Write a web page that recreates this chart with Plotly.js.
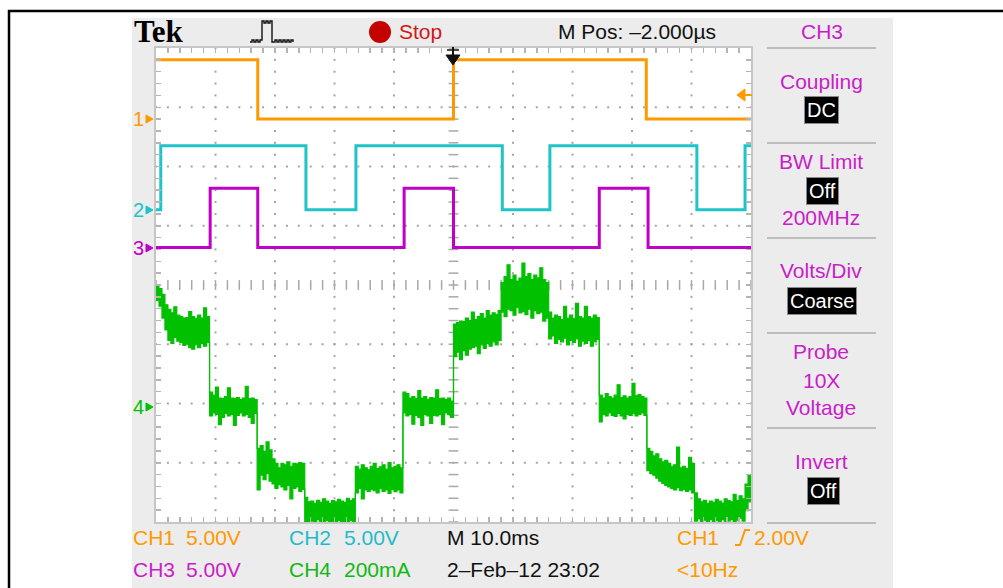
<!DOCTYPE html>
<html><head><meta charset="utf-8">
<script src="https://cdn.plot.ly/plotly-3.0.1.min.js"></script>
<style>html,body{margin:0;padding:0;background:#fff;}#chart{width:1003px;height:588px;}</style>
</head><body><div id="chart"></div>
<script>
// ---- data (time in ms relative to trigger, 10 ms/div) ----
const ch1Time = [-50, -32.9, 0, 32.4, 50];
const ch1Volts = [5.0, 0, 5.0, 0, 0];
const ch2Time = [-50, -49.2, -24.8, -16.4, 8.2, 16.2, 40.9, 49.0, 50];
const ch2Volts = [0, 5.4, 0, 5.4, 0, 5.4, 0, 5.4, 5.4];
const ch3Time = [-50, -40.9, -32.9, -8.3, 0, 24.5, 32.7, 50];
const ch3Volts = [0, 5.0, 0, 5.0, 0, 5.0, 0, 0];
// CH4 current, sampled every 0.5 ms: upper and lower envelope of the noisy trace (mA)
const ch4StartMs = -50, ch4StepMs = 0.5;
const ch4Upper = [412,400,380,345,330,318,338,310,305,300,302,322,305,298,310,300,335,305,
 50,40,67,30,28,35,65,30,28,32,25,30,70,28,30,25,
 -140,-130,-150,-118,-145,-175,-190,-205,-190,-195,-185,-200,-190,-192,-188,-190,
 -305,-320,-318,-325,-315,-322,-310,-318,-325,-316,-320,-312,-318,-322,-308,-316,-310,
 -200,-210,-195,-205,-212,-200,-190,-208,-202,-195,-210,-188,-205,-200,-195,-205,
 50,45,30,35,28,55,30,35,26,32,30,58,28,30,25,30,20,
 280,285,290,288,300,292,320,295,305,315,300,325,310,318,312,325,
 420,440,480,430,445,425,435,486,440,450,430,445,436,470,430,420,
 320,300,310,305,295,340,300,310,298,350,305,300,340,305,300,310,302,
 40,30,45,35,30,40,75,32,38,30,35,80,38,42,35,30,
 -140,-150,-165,-158,-175,-185,-180,-190,-200,-195,-135,-205,-200,-208,-170,-190,
 -290,-310,-320,-315,-325,-318,-322,-312,-318,-324,-310,-316,-320,-295,-315,-300,-310,
 -260,-230,-225];
const ch4Lower = [360,340,300,260,225,215,235,222,218,208,212,200,195,210,200,215,205,218,
 -30,-20,-25,-60,-35,-22,-30,-25,-62,-28,-20,-30,-25,-35,-55,-22,
 -280,-230,-245,-225,-250,-260,-275,-262,-270,-280,-265,-310,-275,-270,-285,-278,
 -395,-390,-385,-392,-380,-388,-395,-383,-390,-386,-392,-384,-390,-386,-392,-384,-398,
 -290,-275,-310,-280,-285,-278,-282,-290,-276,-285,-280,-292,-278,-286,-280,-290,
 -20,-30,-25,-58,-28,-35,-62,-25,-30,-55,-28,-30,-25,-60,-20,-25,-35,
 170,185,160,190,175,195,200,205,180,210,198,215,205,220,210,225,
 320,305,330,325,310,335,318,322,312,330,300,325,315,320,290,300,
 230,240,215,228,220,232,210,225,218,230,205,222,215,225,205,220,228,
 -50,-25,-30,-20,-28,-32,-22,-30,-40,-25,-28,-22,-30,-25,-20,-28,
 -215,-225,-230,-240,-250,-258,-265,-270,-275,-280,-272,-282,-278,-285,-280,-290,
 -385,-378,-390,-382,-388,-380,-392,-384,-386,-380,-390,-385,-380,-388,-382,-375,-385,
 -350,-320,-300];

// ---- channel settings: scale (units/div) and ground position (div) ----
const CH = {
  c1:{scale:5, pos:2.80, color:'#ff9900'},
  c2:{scale:5, pos:1.27, color:'#1fc4c8'},
  c3:{scale:5, pos:0.633, color:'#c000c8'},
  c4:{scale:200, pos:-2.059, color:'#00c000'}
};
const toDiv = (arr, c) => arr.map(v => c.pos + v / c.scale);
const ch4Time = ch4Upper.map((_, i) => ch4StartMs + i * ch4StepMs);

// ---- pixel helpers for decorations ----
const L0 = 156, R0 = 751, T0 = 48, B0 = 522;
const X = px => (px - L0) / (R0 - L0);
const Y = py => (B0 - py) / (B0 - T0);
const FONT = 'Liberation Sans, Arial, sans-serif';
const TXT = {orange:'#ff9900', cyan:'#1fbcc8', mag:'#c81ec8', green:'#12b812', black:'#111111', red:'#d01818'};

function ann(text, px, py, color, size, opt) {
  return Object.assign({text:text, x:X(px), y:Y(py), xref:'paper', yref:'paper', showarrow:false,
    xanchor:'left', yanchor:'middle', font:{family:FONT, size:size||21, color:color}}, opt||{});
}
function box(text, pxc, py) {
  return {text:text, x:X(pxc), y:Y(py), xref:'paper', yref:'paper', showarrow:false,
    xanchor:'center', yanchor:'middle', bgcolor:'#000', bordercolor:'#8a8a8a', borderwidth:1, borderpad:2,
    font:{family:FONT, size:20, color:'#ffffff'}};
}
function path(pts, close) {
  return pts.map((p, i) => (i ? 'L' : 'M') + X(p[0]).toFixed(5) + ',' + Y(p[1]).toFixed(5)).join(' ') + (close ? ' Z' : '');
}
function pshape(pts, close, color, width, fill) {
  return {type:'path', xref:'paper', yref:'paper', path:path(pts, close),
    line:{color:color, width:width||1}, fillcolor: fill || 'rgba(0,0,0,0)'};
}

// ---- grid dots and center cross marks (decoration) ----
const dotX = [], dotY = [];
for (let k = -4; k <= 4; k++) { if (k === 0) continue;
  for (let j = -20; j <= 20; j++) { dotX.push(k * 10); dotY.push(j * 0.2); } }
for (let m = -3; m <= 3; m++) { if (m === 0) continue;
  for (let j = -25; j <= 25; j++) { dotX.push(j * 2); dotY.push(m); } }
const cvX = [], cvY = [], chX = [], chY = [];
for (let j = -20; j <= 20; j++) { cvX.push(0); cvY.push(j * 0.2); }
for (let j = -25; j <= 25; j++) { chX.push(j * 2); chY.push(0); }

const traces = [
  {x:dotX, y:dotY, mode:'markers', marker:{symbol:'square', size:2, color:'#a4a4a4'}, hoverinfo:'skip'},
  {x:cvX, y:cvY, mode:'markers', marker:{symbol:'line-ew', size:7, line:{width:1.5, color:'#a8a8a8'}}, hoverinfo:'skip'},
  {x:chX, y:chY, mode:'markers', marker:{symbol:'line-ns', size:7, line:{width:1.5, color:'#a8a8a8'}}, hoverinfo:'skip'},
  {x:ch4Time, y:toDiv(ch4Lower, CH.c4), mode:'lines', line:{shape:'hv', color:CH.c4.color, width:1.2}, hoverinfo:'skip'},
  {x:ch4Time, y:toDiv(ch4Upper, CH.c4), mode:'lines', fill:'tonexty', fillcolor:CH.c4.color,
    line:{shape:'hv', color:CH.c4.color, width:1.2}, hoverinfo:'skip'},
  {x:ch3Time, y:toDiv(ch3Volts, CH.c3), mode:'lines', line:{shape:'hv', color:CH.c3.color, width:3}, hoverinfo:'skip'},
  {x:ch2Time, y:toDiv(ch2Volts, CH.c2), mode:'lines', line:{shape:'hv', color:CH.c2.color, width:3}, hoverinfo:'skip'},
  {x:ch1Time, y:toDiv(ch1Volts, CH.c1), mode:'lines', line:{shape:'hv', color:CH.c1.color, width:3}, hoverinfo:'skip'}
];

const shapes = [
  {type:'rect', xref:'paper', yref:'paper', x0:X(132), x1:X(893), y0:Y(18), y1:Y(588), fillcolor:'#ececec', line:{width:0}, layer:'below'},
  {type:'rect', xref:'paper', yref:'paper', x0:X(156), x1:X(751), y0:Y(48), y1:Y(522), fillcolor:'#ffffff', line:{width:0}, layer:'below'},
  {type:'line', xref:'paper', yref:'paper', x0:X(8), x1:X(1003), y0:Y(11), y1:Y(11), line:{color:'#000', width:2.5}},
  {type:'line', xref:'paper', yref:'paper', x0:X(9), x1:X(9), y0:Y(10), y1:Y(590), line:{color:'#000', width:2.5}},
  // stop circle
  {type:'circle', xref:'paper', yref:'paper', x0:X(369), x1:X(391), y0:Y(21), y1:Y(43), fillcolor:'#c40000', line:{width:0}},
  // pulse icon
  pshape([[250,42],[252,42],[252,40],[254,40],[254,42],[256,42],[256,40],[258,40],[258,42],[260,42],[260,40],[262,40],[262,21],[264,21],[264,23],[266,23],[266,21],[268,21],[268,23],[270,23],[270,21],[272,21],[272,42],[275,42],[275,40],[277,40],[277,42],[279,42],[279,40],[281,40],[281,42],[283,42],[283,40],[285,40],[285,42],[287,42],[287,40],[289,40],[289,42],[291,42],[291,40],[293,40],[293,42]], false, '#111', 1.4),
  // trigger position marker (top)
  pshape([[446,55],[460,55],[453,65]], true, '#111', 1, '#111'),
  pshape([[453,47],[453,56]], false, '#111', 2),
  pshape([[447,50],[459,50]], false, '#111', 1.5),
  // trigger level marker (right)
  pshape([[737,95],[745,89],[745,101]], true, TXT.orange, 1, TXT.orange),
  pshape([[745,95],[752,95]], false, TXT.orange, 2),
  // channel ground markers
  pshape([[146,115],[153,119],[146,123]], true, TXT.orange, 1, TXT.orange),
  pshape([[146,206],[153,210],[146,214]], true, CH.c2.color, 1, CH.c2.color),
  pshape([[146,244],[153,248],[146,252]], true, CH.c3.color, 1, CH.c3.color),
  pshape([[146,403],[153,407],[146,411]], true, CH.c4.color, 1, CH.c4.color),
  // trigger slope glyph
  pshape([[735,545],[740,545],[745,530],[750,530]], false, TXT.orange, 2)
];
[48,143,238,333,428,523].forEach(py => shapes.push(
  {type:'line', xref:'paper', yref:'paper', x0:X(767), x1:X(876), y0:Y(py), y1:Y(py), line:{color:'#bdbdbd', width:2}}));

const annotations = [
  ann('<b>Tek</b>', 132, 32, '#000', 31, {font:{family:'Liberation Serif, Times New Roman, serif', size:31, color:'#000'}}),
  ann('Stop', 397, 32, TXT.red, 21),
  ann('M Pos: –2.000µs', 556, 31, TXT.black, 21),
  ann('CH3', 822, 31, TXT.mag, 21, {xanchor:'center'}),
  ann('Coupling', 821, 81, TXT.mag, 21, {xanchor:'center'}),
  box('DC', 821, 110),
  ann('BW Limit', 821, 161, TXT.mag, 21, {xanchor:'center'}),
  box('Off', 822, 191),
  ann('200MHz', 821, 218, TXT.mag, 21, {xanchor:'center'}),
  ann('Volts/Div', 821, 270, TXT.mag, 21, {xanchor:'center'}),
  box('Coarse', 822, 301),
  ann('Probe', 821, 351, TXT.mag, 21, {xanchor:'center'}),
  ann('10X', 821, 380, TXT.mag, 21, {xanchor:'center'}),
  ann('Voltage', 821, 407, TXT.mag, 21, {xanchor:'center'}),
  ann('Invert', 821, 461, TXT.mag, 21, {xanchor:'center'}),
  box('Off', 823, 491),
  ann('1', 131, 119, TXT.orange, 20),
  ann('2', 131, 210, CH.c2.color, 20),
  ann('3', 131, 248, CH.c3.color, 20),
  ann('4', 131, 407, CH.c4.color, 20),
  ann('CH1', 131, 537, TXT.orange), ann('5.00V', 184, 537, TXT.orange),
  ann('CH2', 287, 537, TXT.cyan), ann('5.00V', 342, 537, TXT.cyan),
  ann('M 10.0ms', 445, 537, TXT.black),
  ann('CH1', 675, 537, TXT.orange), ann('2.00V', 752, 537, TXT.orange),
  ann('CH3', 131, 569, TXT.mag), ann('5.00V', 184, 569, TXT.mag),
  ann('CH4', 287, 569, TXT.green), ann('200mA', 342, 569, TXT.green),
  ann('2–Feb–12 23:02', 445, 569, TXT.black),
  ann('&lt;10Hz', 675, 569, TXT.orange)
];

const axisCommon = {showgrid:false, zeroline:false, showticklabels:false, ticks:'inside', ticklen:5,
  tickwidth:1.5, tickcolor:'#b4b4b4', showline:true, linecolor:'#c6c6c6', linewidth:2, mirror:'ticks', fixedrange:true};

const layout = {
  width:1003, height:588, margin:{l:156, r:252, t:48, b:66, pad:0},
  paper_bgcolor:'#ffffff', plot_bgcolor:'#ffffff', showlegend:false,
  xaxis:Object.assign({range:[-50,50], dtick:2, tick0:0}, axisCommon),
  yaxis:Object.assign({range:[-4,4], dtick:0.2, tick0:0}, axisCommon),
  shapes:shapes, annotations:annotations
};
Plotly.newPlot('chart', traces, layout, {displayModeBar:false, staticPlot:true});
</script></body></html>
